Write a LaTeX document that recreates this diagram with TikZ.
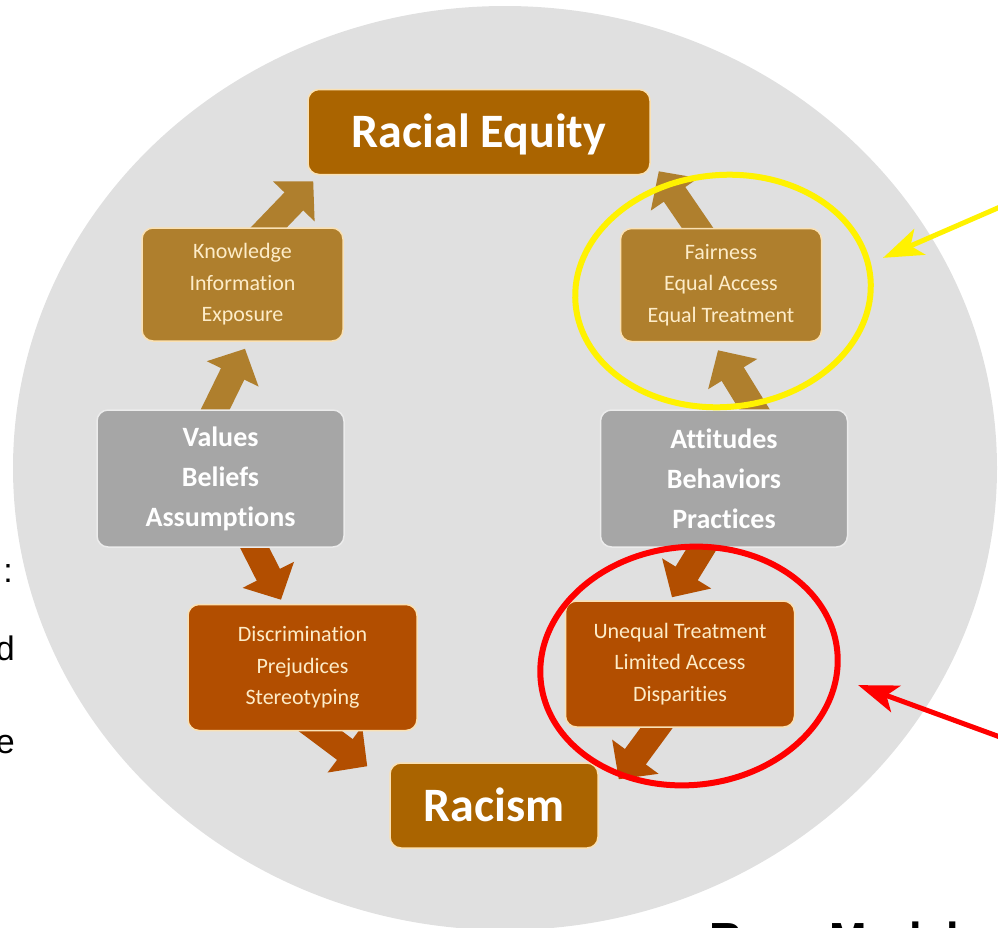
\documentclass[tikz,border=0pt]{standalone}
\usepackage{fontspec}
\setmainfont{Carlito}[Ligatures=NoCommon]
\newfontfamily\arialfont{Liberation Sans}
\usetikzlibrary{arrows.meta,shapes.geometric,backgrounds}

\definecolor{bgcircle}{RGB}{224,224,224}
\definecolor{amberbox}{RGB}{170,100,0}
\definecolor{goldbox}{RGB}{175,127,45}
\definecolor{rustbox}{RGB}{178,78,0}
\definecolor{greybox}{RGB}{166,166,166}
\definecolor{creamtext}{RGB}{253,236,200}
\definecolor{boxedge}{RGB}{250,225,180}

\begin{document}
\begin{tikzpicture}[x=1pt, y=-1pt,
    box/.style={rounded corners=11pt, draw=boxedge, line width=1.5pt, align=center, inner sep=0pt},
    titlebox/.style={box, fill=amberbox, text=white, minimum height=85pt, text height=31pt, text depth=0pt, font=\bfseries\fontsize{48}{58}\selectfont},
    goodbox/.style={box, fill=goldbox, text=creamtext, minimum width=201pt, minimum height=113pt, font=\fontsize{22}{31.5}\selectfont},
    badbox/.style={box, fill=rustbox, text=creamtext, minimum width=229pt, minimum height=126pt, font=\fontsize{22}{31.5}\selectfont},
    corebox/.style={box, fill=greybox, draw=white!85!gray, text=white, minimum width=247pt, minimum height=137pt, font=\bfseries\fontsize{28}{40}\selectfont},
    flow/.style={line width=26pt, -{Triangle[width=56pt,length=28pt]}},
    goodflow/.style={flow, draw=goldbox},
    badflow/.style={flow, draw=rustbox},
    ring/.style={ellipse, draw, line width=6pt, inner sep=0pt},
    callout/.style={line width=5pt, -{Stealth[length=40pt,width=28pt,inset=10pt]}},
    frag/.style={inner sep=0pt, font=\arialfont\fontsize{34}{40}\selectfont}]

\useasboundingbox (0,0) rectangle (998,927);

% boxes
\node[titlebox, minimum width=342pt] (req) at (479,132) {Racial Equity};
\node[goodbox] (know) at (242.5,284.5) {Knowledge\\Information\\Exposure};
\node[goodbox] (fair) at (721,285) {Fairness\\Equal Access\\Equal Treatment};
\node[corebox] (vals) at (220.5,478.5) {Values\\Beliefs\\Assumptions};
\node[corebox] (atts) at (724,478.5) {Attitudes\\Behaviors\\Practices};
\node[badbox] (discr) at (302.5,667.5) {Discrimination\\Prejudices\\Stereotyping};
\node[badbox] (uneq) at (680,664) {Unequal Treatment\\Limited Access\\Disparities};
\node[titlebox, minimum width=208pt] (racism) at (494,805.5) {Racism};

% circle and arrows behind the boxes
\begin{scope}[on background layer]
\fill[bgcircle] (505,468) ellipse [x radius=492, y radius=462];

\draw[goodflow] ([shift={(13,14)}]know.north) -- ([shift={(6,6)}]req.south west);
\draw[goodflow] ([shift={(-12.5,15)}]vals.north) -- ([shift={(2.5,7)}]know.south);
\draw[goodflow] ([shift={(-14,14)}]fair.north) -- ([shift={(8,-4)}]req.south east);
\draw[goodflow] ([shift={(39,14)}]atts.north) -- ([shift={(-3,8)}]fair.south);

\draw[badflow] ([shift={(26.5,-15)}]vals.south) -- ([shift={(-21.5,-4)}]discr.north);
\draw[badflow] ([shift={(-2,-15)}]discr.south) -- ([shift={(-22,4)}]racism.north west);
\draw[badflow] ([shift={(-13,-14)}]atts.south) -- ([shift={(-8,-3)}]uneq.north);
\draw[badflow] ([shift={(-13,-14)}]uneq.south) -- ([shift={(20,17)}]racism.north east);
\end{scope}

% highlights
\node[ring, draw=yellow, minimum width=296pt, minimum height=232pt, rotate=5] (yring) at (723,291) {};
\node[ring, draw=red, minimum width=298pt, minimum height=238pt, rotate=6] (rring) at (689,666) {};

\coordinate (ytail) at (1000,207);
\coordinate (rtail) at (1000,737);
\draw[callout, yellow] (ytail) -- ([shift={(9.6,-20)}]yring.east);
\draw[callout, red] (rtail) -- ([shift={(18,35)}]rring.east);

% cut-off text at the edges
\node[frag, anchor=base east] (colon) at (13,582) {:};
\node[frag, anchor=base east] (dchar) at (15,660) {d};
\node[frag, anchor=base east] (echar) at (15,753) {e};
\node[inner sep=0pt, anchor=base west, font=\arialfont\bfseries\fontsize{45}{54}\selectfont] (model) at (709,954) {Race Model};

\end{tikzpicture}
\end{document}
